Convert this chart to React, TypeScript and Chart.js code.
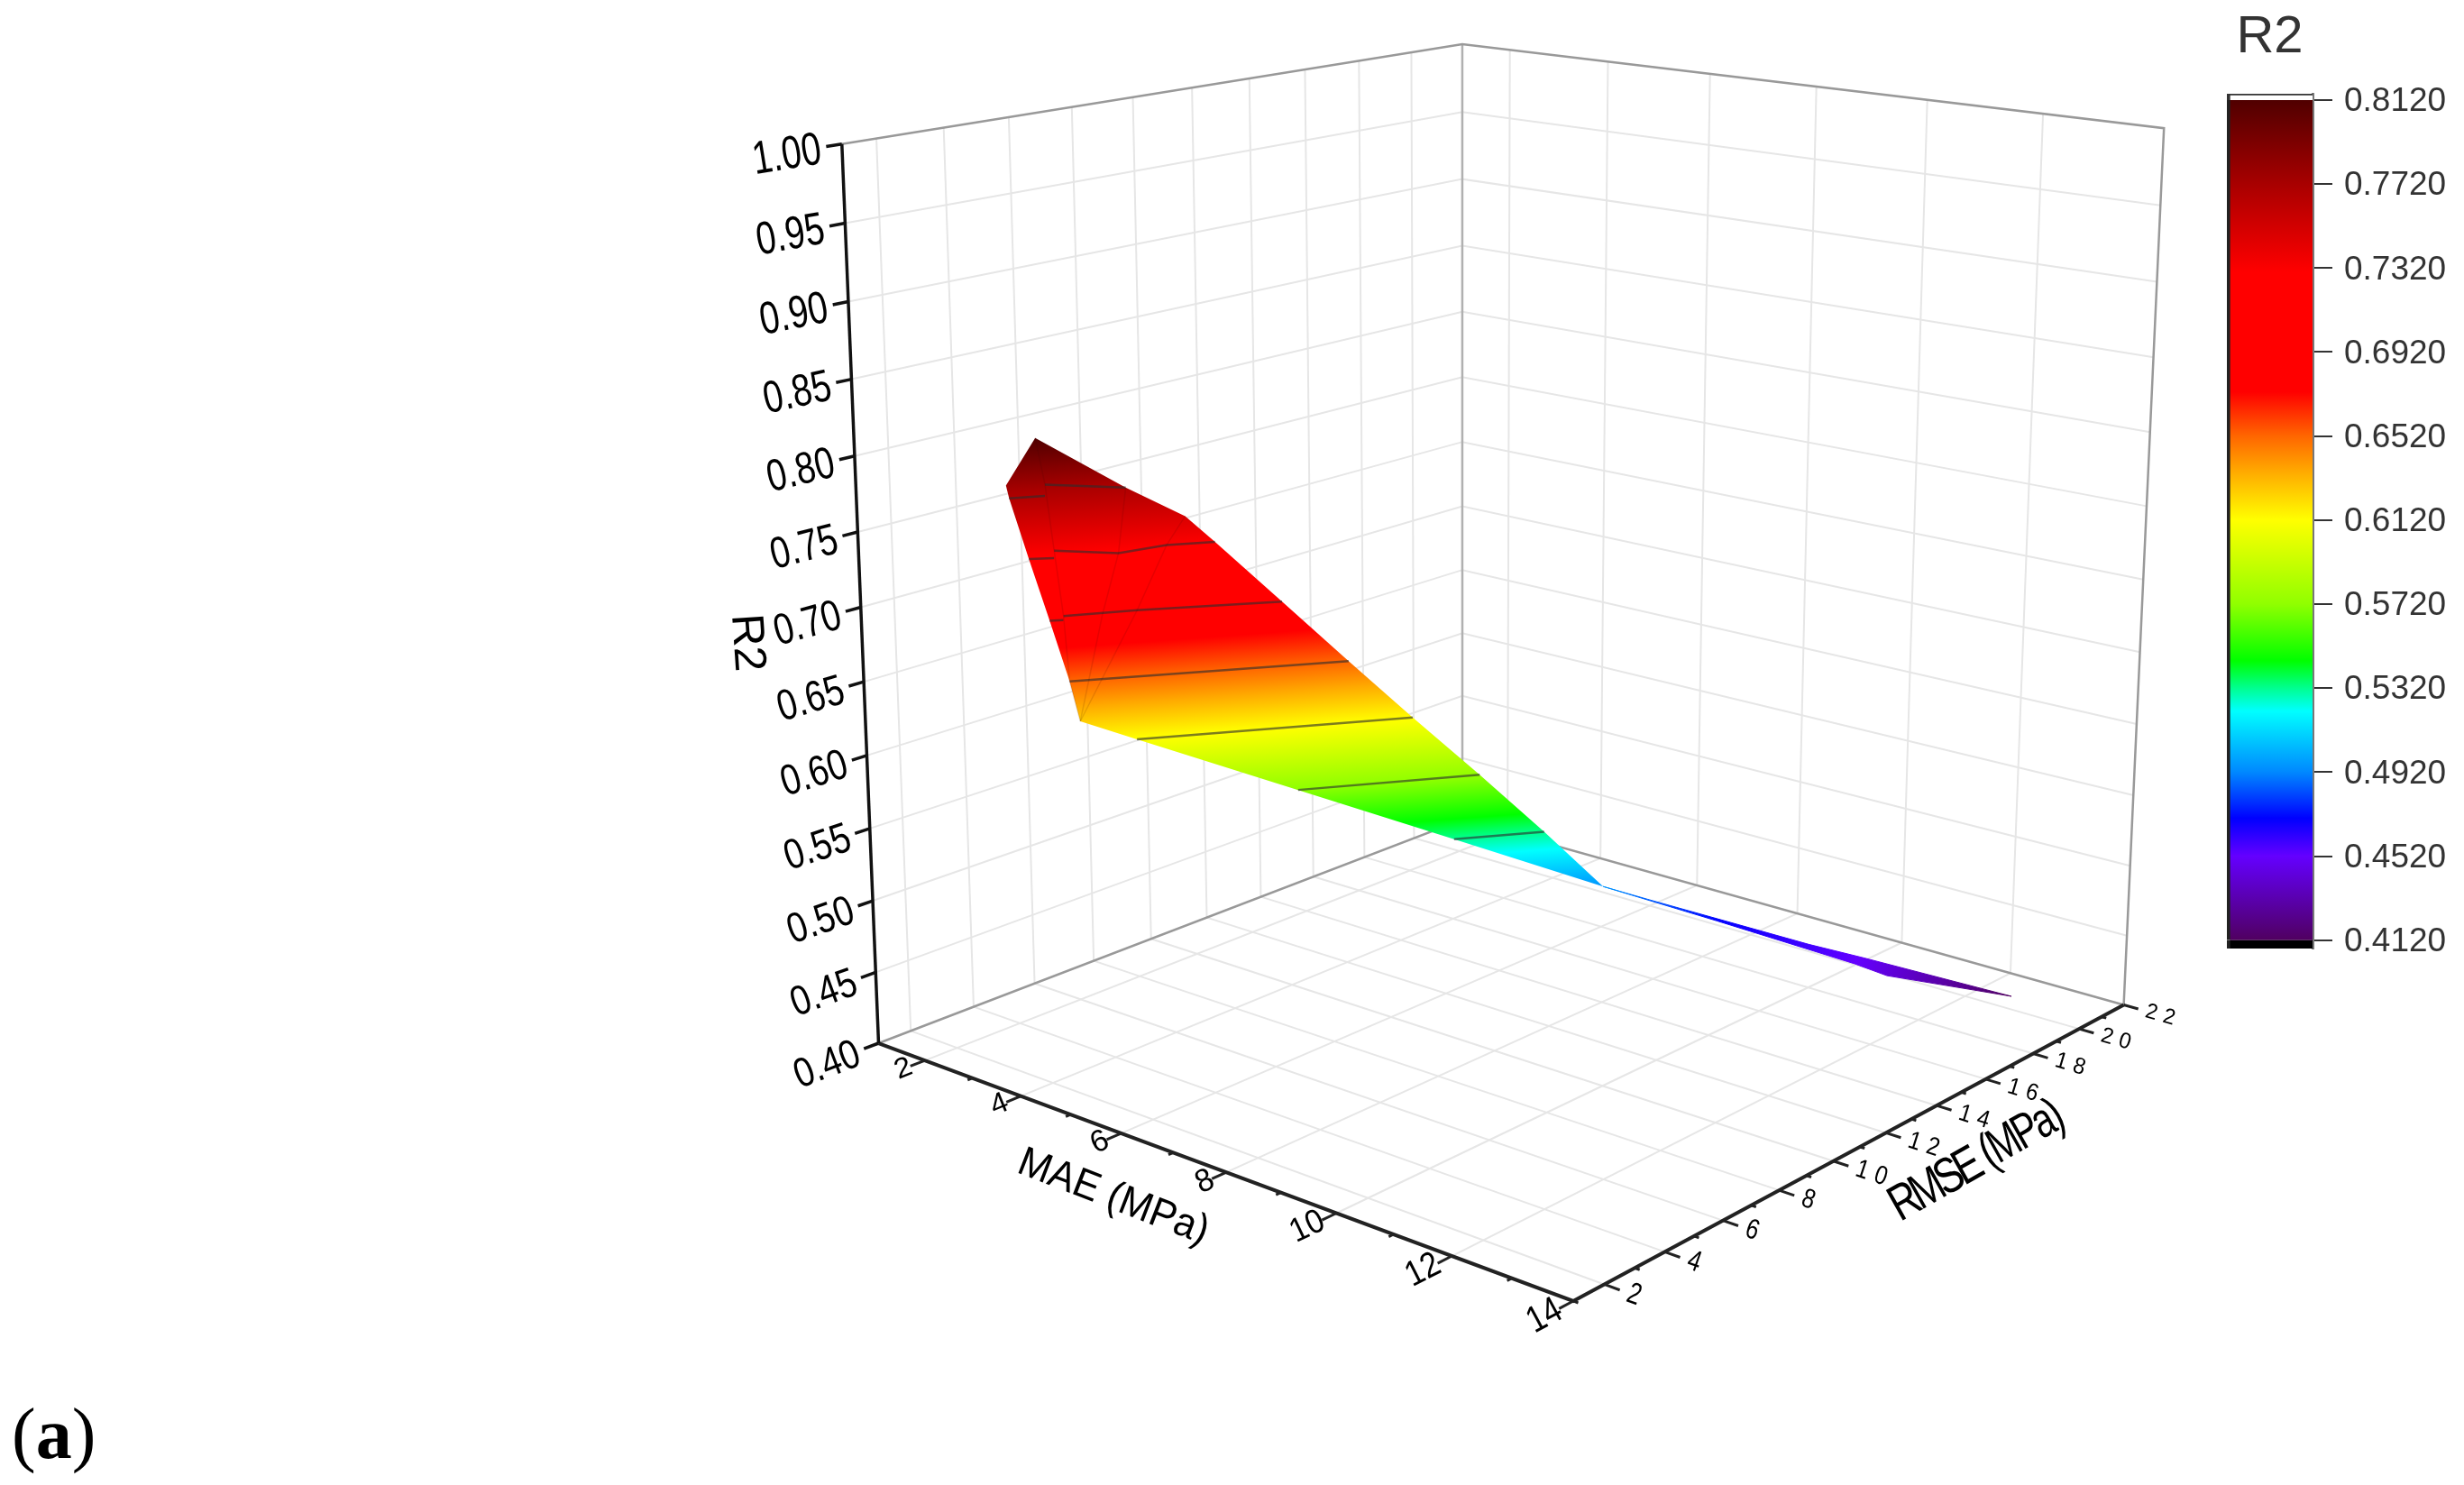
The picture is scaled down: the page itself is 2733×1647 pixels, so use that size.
import { useEffect, useRef } from "react";
import { Chart } from "chart.js/auto";

// axis values
const maeTicks = [2, 4, 6, 8, 10, 12, 14];
const maeMinorTicks = [3, 5, 7, 9, 11, 13];
const rmseTicks = [2, 4, 6, 8, 10, 12, 14, 16, 18, 20, 22];
const rmseMinorTicks = [1, 3, 5, 7, 9, 11, 13, 15, 17, 19, 21];
const r2Ticks = [0.4, 0.45, 0.5, 0.55, 0.6, 0.65, 0.7, 0.75, 0.8, 0.85, 0.9, 0.95, 1.0];
const colorTicks = [0.412, 0.452, 0.492, 0.532, 0.572, 0.612, 0.652, 0.692, 0.732, 0.772, 0.812];

// surface outline
const surfaceMae = [2.93, 3.41, 3.93, 4.15, 4.89, 5.64, 6.28, 7.01, 7.72, 8.44, 6.93, 5.47, 3.98, 3.46, 3.31, 3.08, 2.81, 2.61, 2.62];
const surfaceRmse = [3.63, 5.67, 6.73, 7.33, 8.29, 9.23, 10.3, 11.33, 12.33, 13.12, 10.56, 7.76, 4.95, 3.98, 3.91, 3.69, 3.51, 3.26, 3.16];
const surfaceR2 = [0.812, 0.772, 0.751, 0.732, 0.692, 0.652, 0.612, 0.572, 0.532, 0.495, 0.532, 0.572, 0.612, 0.626, 0.652, 0.692, 0.732, 0.772, 0.781];

const tailMae = [8.44, 8.94, 10.88, 11.59, 12.89, 12.88, 12.12, 11.65, 9.69];
const tailRmse = [13.12, 13.8, 15.98, 16.63, 19.8, 18.19, 16.34, 16.1, 14.92];
const tailR2 = [0.495, 0.486, 0.458, 0.451, 0.412, 0.43, 0.447, 0.452, 0.47];

// contour lines on the surface
const contours: number[][][] = [
  [[2.61, 3.26, 0.772], [2.89, 3.94, 0.772]],
  [[2.42, 4.66, 0.772], [3.41, 5.67, 0.772]],
  [[2.81, 3.51, 0.732], [3.04, 3.94, 0.732]],
  [[2.75, 4.39, 0.732], [3.54, 5.19, 0.732], [3.75, 6.4, 0.732], [4.15, 7.33, 0.732]],
  [[3.08, 3.69, 0.692], [3.2, 3.93, 0.692]],
  [[3.05, 4.17, 0.692], [3.63, 5.6, 0.692], [4.89, 8.29, 0.692]],
  [[3.31, 3.91, 0.652], [5.64, 9.23, 0.652]],
  [[3.98, 4.95, 0.612], [6.28, 10.3, 0.612]],
  [[5.47, 7.76, 0.572], [7.01, 11.33, 0.572]],
  [[6.93, 10.56, 0.532], [7.72, 12.33, 0.532]],
];

// faint facet edges
const seams: number[][][] = [
  [[2.93, 3.63, 0.812], [2.42, 4.66, 0.772], [2.75, 4.39, 0.732], [3.05, 4.17, 0.692], [3.31, 3.91, 0.652], [3.46, 3.98, 0.626]],
  [[3.41, 5.67, 0.772], [3.54, 5.19, 0.732], [3.41, 4.84, 0.692], [3.46, 3.98, 0.626]],
  [[3.93, 6.73, 0.751], [3.75, 6.4, 0.732], [3.63, 5.6, 0.692], [3.46, 3.98, 0.626]],
];

// where each R2 level sits on the two parts of the surface
const surfaceLevels: number[][] = [
  [2.93, 3.63, 0.812],
  [2.92, 5.17, 0.772],
  [3.45, 5.86, 0.732],
  [3.97, 6.23, 0.692],
  [4.48, 6.57, 0.652],
  [5.13, 7.63, 0.612],
  [6.24, 9.55, 0.572],
  [7.33, 11.45, 0.532],
  [8.44, 13.12, 0.495],
];
const tailLevels: number[][] = [
  [8.44, 13.12, 0.495],
  [9.69, 14.92, 0.47],
  [11.65, 16.1, 0.452],
  [12.88, 18.19, 0.43],
  [12.89, 19.8, 0.412],
];

// colour map
const colorValues = [0.412, 0.452, 0.47, 0.492, 0.521, 0.532, 0.545, 0.572, 0.612, 0.635, 0.652, 0.673, 0.73, 0.772, 0.812];
const colorStops = ["#500060", "#6400ff", "#0000ff", "#0088ff", "#00ffff", "#00ff90", "#00ff00", "#90ff00", "#ffff00", "#ffaa00", "#ff6600", "#ff0000", "#ff0000", "#a80000", "#500000"];

const FONT = '"Liberation Sans"';
const MAE_MIN = 1;
const MAE_MAX = 14;
const RMSE_MIN = 1;
const RMSE_MAX = 22;
const R2_MIN = 0.4;
const R2_MAX = 1;

// perspective box fitted to the axis corners
const project = ([mae, rmse, r2]: number[]) => {
  const u = (mae - MAE_MIN) / (MAE_MAX - MAE_MIN);
  const v = (rmse - RMSE_MIN) / (RMSE_MAX - RMSE_MIN);
  const w = (r2 - R2_MIN) / (R2_MAX - R2_MIN);
  const d = 1 - 0.14045 * u + 0.1672 * v - 0.059 * w;
  return {
    x: (974.5 + 525.4 * u + 918.7 * v - 95.8 * w) / d,
    y: (1157 + 83.3 * u - 96 * v - 1006.7 * w) / d,
  };
};

const triples = (a: number[], b: number[], c: number[]) => a.map((m, i) => [m, b[i], c[i]]);

const line = (pts: number[][], color: string, width: number, order: number) => ({
  data: pts.map(project),
  borderColor: color,
  borderWidth: width,
  pointRadius: 0,
  showLine: true,
  fill: false,
  order,
});

const hexToRgb = (h: string) => [1, 3, 5].map((i) => parseInt(h.slice(i, i + 2), 16));

const mapColor = (v: number) => {
  for (let i = 0; i < colorValues.length - 1; i++) {
    if (v >= colorValues[i] && v <= colorValues[i + 1]) {
      const f = (v - colorValues[i]) / (colorValues[i + 1] - colorValues[i]);
      const a = hexToRgb(colorStops[i]);
      const b = hexToRgb(colorStops[i + 1]);
      return `rgb(${a.map((c, k) => Math.round(c + f * (b[k] - c))).join(",")})`;
    }
  }
  return colorStops[0];
};

// gradient whose stops follow the R2 levels on the surface
const levelGradient = (chart: any, levels: number[][], nx: number, ny: number) => {
  const { x, y } = chart.scales;
  const pts = levels.map((l) => {
    const p = project(l);
    return { t: x.getPixelForValue(p.x) * nx + y.getPixelForValue(p.y) * ny, r2: l[2] };
  });
  const t0 = pts[0].t;
  const t1 = pts[pts.length - 1].t;
  const first = project(levels[0]);
  const fx = x.getPixelForValue(first.x);
  const fy = y.getPixelForValue(first.y);
  const g = chart.ctx.createLinearGradient(fx, fy, fx + nx * (t1 - t0), fy + ny * (t1 - t0));
  const hi = pts[0].r2;
  const lo = pts[pts.length - 1].r2;
  const stopAt = (r2: number, color: string) => {
    for (let i = 0; i < pts.length - 1; i++) {
      if (r2 <= pts[i].r2 && r2 >= pts[i + 1].r2) {
        const f = (pts[i].r2 - r2) / (pts[i].r2 - pts[i + 1].r2);
        g.addColorStop(Math.min(1, Math.max(0, (pts[i].t + f * (pts[i + 1].t - pts[i].t) - t0) / (t1 - t0))), color);
        return;
      }
    }
  };
  colorValues.forEach((v, i) => {
    if (v <= hi && v >= lo) stopAt(v, colorStops[i]);
  });
  stopAt(hi, mapColor(hi));
  stopAt(lo, mapColor(lo));
  return g;
};

// text turned to a box direction: base and up are data steps per font pixel
const planeText = (
  ctx: CanvasRenderingContext2D,
  text: string,
  at: number[],
  base: number[],
  up: number[],
  size: number,
  align: CanvasTextAlign,
  spacing = 0,
) => {
  const p = project(at);
  const b = project(at.map((v, i) => v + base[i]));
  const u = project(at.map((v, i) => v + up[i]));
  const bx = b.x - p.x;
  const by = b.y - p.y;
  const bl = Math.hypot(bx, by);
  const m = Math.hypot(u.x - p.x, u.y - p.y);
  ctx.save();
  ctx.transform(bx, by, (-by / bl) * m, (bx / bl) * m, p.x, p.y);
  ctx.font = `${size}px ${FONT}`;
  ctx.fillStyle = "#000";
  ctx.textAlign = align;
  ctx.textBaseline = "middle";
  (ctx as any).letterSpacing = `${spacing}px`;
  ctx.fillText(text, 0, 0);
  ctx.restore();
};

const axisText = {
  id: "axisText",
  afterDatasetsDraw(chart: any) {
    const ctx = chart.ctx;
    r2Ticks.forEach((v) => {
      planeText(ctx, v.toFixed(2), [MAE_MIN, RMSE_MIN - 0.6, v - 0.002], [0, 0.0195, 0], [0, 0, 0.00057], 51, "right");
    });
    maeTicks.forEach((v) => {
      planeText(ctx, String(v), [v, RMSE_MIN - 0.42, R2_MIN], [0, 0.0255, 0], [-0.0165, 0, 0], 34, "right");
    });
    rmseTicks.forEach((v) => {
      planeText(ctx, String(v), [MAE_MAX + 0.38, v, R2_MIN], [0.012, 0, 0], [0, 0.03, 0], 29, "left", 9);
    });
    planeText(ctx, "MAE (MPa)", [7.42, -1.5, R2_MIN], [0.0155, 0, 0], [0, 0.0256, 0], 44, "center");
    planeText(ctx, "RMSE", [15.51, 8.76, R2_MIN], [0, 0.0256, 0], [-0.0152, 0, 0], 50, "left", -6);
    planeText(ctx, "(MPa)", [15.47, 12.31, R2_MIN], [0, 0.0256, 0], [-0.0152, 0, 0], 50, "left", -4);
    ctx.save();
    ctx.translate(828, 713);
    ctx.rotate((86 * Math.PI) / 180);
    ctx.font = `50px ${FONT}`;
    ctx.fillStyle = "#000";
    ctx.textAlign = "center";
    ctx.textBaseline = "middle";
    ctx.fillText("R2", 0, 0);
    ctx.restore();
  },
};

const buildDatasets = () => {
  const grid = "#e6e6e6";
  const edge = "#999999";
  const sets: any[] = [];
  r2Ticks.slice(1, -1).forEach((v) => {
    sets.push(line([[MAE_MIN, RMSE_MIN, v], [MAE_MIN, RMSE_MAX, v], [MAE_MAX, RMSE_MAX, v]], grid, 2, 6));
  });
  rmseTicks.slice(0, -1).forEach((v) => {
    sets.push(line([[MAE_MIN, v, R2_MIN], [MAE_MIN, v, R2_MAX]], grid, 2, 6));
    sets.push(line([[MAE_MIN, v, R2_MIN], [MAE_MAX, v, R2_MIN]], grid, 2, 6));
  });
  maeTicks.slice(0, -1).forEach((v) => {
    sets.push(line([[v, RMSE_MAX, R2_MIN], [v, RMSE_MAX, R2_MAX]], grid, 2, 6));
    sets.push(line([[v, RMSE_MIN, R2_MIN], [v, RMSE_MAX, R2_MIN]], grid, 2, 6));
  });

  sets.push(line([[MAE_MIN, RMSE_MIN, R2_MAX], [MAE_MIN, RMSE_MAX, R2_MAX], [MAE_MAX, RMSE_MAX, R2_MAX], [MAE_MAX, RMSE_MAX, R2_MIN]], edge, 2.5, 5));
  sets.push(line([[MAE_MIN, RMSE_MIN, R2_MIN], [MAE_MIN, RMSE_MAX, R2_MIN], [MAE_MAX, RMSE_MAX, R2_MIN]], edge, 2.5, 5));
  sets.push(line([[MAE_MIN, RMSE_MAX, R2_MIN], [MAE_MIN, RMSE_MAX, R2_MAX]], "#b0b0b0", 2.5, 5));

  sets.push(line([[MAE_MIN, RMSE_MIN, R2_MAX], [MAE_MIN, RMSE_MIN, R2_MIN]], "#111", 3.5, 3));
  sets.push(line([[MAE_MIN, RMSE_MIN, R2_MIN], [MAE_MAX, RMSE_MIN, R2_MIN], [MAE_MAX, RMSE_MAX, R2_MIN]], "#222", 4, 3));

  r2Ticks.forEach((v) => {
    sets.push(line([[MAE_MIN, RMSE_MIN, v], [MAE_MIN, RMSE_MIN - 0.45, v]], "#111", 3.5, 3));
  });
  maeTicks.forEach((v) => {
    sets.push(line([[v, RMSE_MIN, R2_MIN], [v, RMSE_MIN - 0.45, R2_MIN]], "#222", 3, 3));
  });
  maeMinorTicks.forEach((v) => {
    sets.push(line([[v, RMSE_MIN, R2_MIN], [v, RMSE_MIN - 0.15, R2_MIN]], "#222", 3, 3));
  });
  rmseTicks.forEach((v) => {
    sets.push(line([[MAE_MAX, v, R2_MIN], [MAE_MAX + 0.25, v, R2_MIN]], "#222", 3, 3));
  });
  rmseMinorTicks.forEach((v) => {
    sets.push(line([[MAE_MAX, v, R2_MIN], [MAE_MAX + 0.08, v, R2_MIN]], "#222", 3, 3));
  });

  sets.push({
    data: triples(surfaceMae, surfaceRmse, surfaceR2).map(project),
    showLine: true,
    pointRadius: 0,
    borderWidth: 0,
    borderColor: "transparent",
    fill: "shape",
    backgroundColor: (c: any) => (c.chart.chartArea ? levelGradient(c.chart, surfaceLevels, 0.0725, 0.9974) : "#f00"),
    order: 2,
  });
  const tailFill = (c: any) => (c.chart.chartArea ? levelGradient(c.chart, tailLevels, 0.963, 0.27) : "#00f");
  sets.push({
    data: [...triples(tailMae, tailRmse, tailR2), [tailMae[0], tailRmse[0], tailR2[0]]].map(project),
    showLine: true,
    pointRadius: 0,
    borderWidth: 1,
    borderColor: tailFill,
    fill: "shape",
    backgroundColor: tailFill,
    order: 2,
  });

  seams.forEach((s) => sets.push(line(s, "rgba(60,0,0,0.12)", 1.5, 1)));
  contours.forEach((c) => sets.push(line(c, "rgba(45,45,45,0.62)", 2.5, 1)));
  return sets;
};

const colorBarFill = (c: any) => {
  const { chart } = c;
  if (!chart.chartArea) return "#f00";
  const y = chart.scales.y;
  const top = y.getPixelForValue(colorValues[colorValues.length - 1]);
  const bottom = y.getPixelForValue(colorValues[0]);
  const g = chart.ctx.createLinearGradient(0, bottom, 0, top);
  colorValues.forEach((v, i) => {
    g.addColorStop((v - colorValues[0]) / (colorValues[colorValues.length - 1] - colorValues[0]), colorStops[i]);
  });
  return g;
};

export default function App() {
  const plotRef = useRef<HTMLCanvasElement | null>(null);
  const barRef = useRef<HTMLCanvasElement | null>(null);

  useEffect(() => {
    document.body.style.margin = "0";
    if (!plotRef.current || !barRef.current) return;

    const plot = new Chart(plotRef.current, {
      type: "scatter",
      data: { datasets: buildDatasets() },
      options: {
        responsive: false,
        devicePixelRatio: 1,
        animation: false,
        layout: { padding: 0 },
        plugins: { legend: { display: false }, tooltip: { enabled: false } },
        scales: {
          x: { type: "linear", display: false, min: 0, max: 2733 },
          y: { type: "linear", display: false, min: 0, max: 1647, reverse: true },
        },
      },
      plugins: [axisText],
    } as any);

    const bar = new Chart(barRef.current, {
      type: "bar",
      data: {
        labels: ["R2"],
        datasets: [
          { data: [[0.408, 0.412]], backgroundColor: "#000", borderColor: "#222", borderWidth: { left: 4 }, borderSkipped: false },
          { data: [[0.412, 0.812]], backgroundColor: colorBarFill, borderColor: "#222", borderWidth: { left: 4 }, borderSkipped: false },
          { data: [[0.812, 0.815]], backgroundColor: "#fff", borderColor: "#333", borderWidth: { left: 4, top: 2 }, borderSkipped: false },
        ],
      },
      options: {
        responsive: false,
        devicePixelRatio: 1,
        animation: false,
        layout: { padding: { bottom: 48 } },
        plugins: {
          legend: { display: false },
          tooltip: { enabled: false },
          title: {
            display: true,
            text: "R2",
            fullSize: false,
            color: "#333",
            font: { family: FONT, size: 58, weight: "normal", lineHeight: 1 },
            padding: { top: 13, bottom: 33 },
          },
        },
        datasets: { bar: { grouped: false, barPercentage: 1, categoryPercentage: 1 } },
        scales: {
          x: { display: false },
          y: {
            position: "right",
            min: 0.408,
            max: 0.815,
            afterFit: (s: any) => {
              s.width = 168;
            },
            afterBuildTicks: (s: any) => {
              s.ticks = colorTicks.map((value) => ({ value }));
            },
            border: { display: true, color: "#777", width: 3 },
            grid: { drawOnChartArea: false, tickLength: 22, color: "#333", lineWidth: 2 },
            ticks: {
              autoSkip: false,
              color: "#333",
              padding: 13,
              labelOffset: 2,
              font: { family: FONT, size: 37 },
              callback: (v: any) => Number(v).toFixed(4),
            },
          },
        },
      },
    } as any);

    return () => {
      plot.destroy();
      bar.destroy();
    };
  }, []);

  return (
    <div style={{ position: "relative", width: 2733, height: 1647, overflow: "hidden", background: "#fff" }}>
      <canvas ref={plotRef} width={2733} height={1647} style={{ position: "absolute", left: 0, top: 0, filter: "blur(0.6px)" }} />
      <canvas ref={barRef} width={263} height={1100} style={{ position: "absolute", left: 2470, top: 0, filter: "blur(0.6px)" }} />
      <div style={{ position: "absolute", left: 13, top: 1550, font: '80px/80px "Liberation Serif"', color: "#000" }}>
        (<b>a</b>)
      </div>
    </div>
  );
}
